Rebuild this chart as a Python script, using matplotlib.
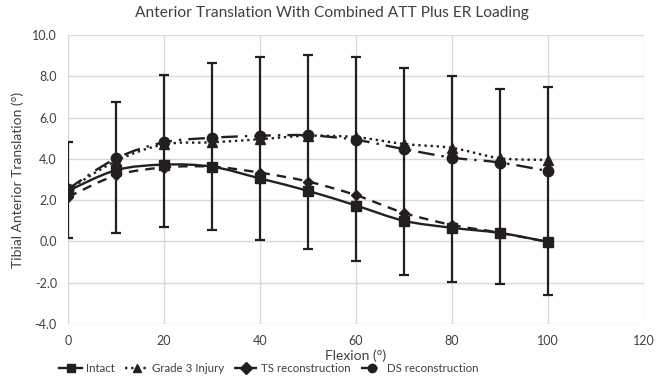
import numpy as np
import matplotlib.pyplot as plt
from matplotlib.path import Path
from matplotlib.patches import PathPatch
from matplotlib.lines import Line2D

flexion = [0, 10, 20, 30, 40, 50, 60, 70, 80, 90, 100]
intact = [2.45, 3.45, 3.72, 3.62, 3.05, 2.45, 1.74, 1.0, 0.66, 0.41, -0.02]
grade3 = [2.5, 3.9, 4.7, 4.8, 4.95, 5.12, 5.05, 4.72, 4.53, 4.03, 3.95]
ts_recon = [2.15, 3.2, 3.58, 3.62, 3.33, 2.9, 2.24, 1.38, 0.8, 0.42, -0.03]
ds_recon = [2.54, 4.02, 4.8, 5.02, 5.12, 5.14, 4.92, 4.47, 4.06, 3.82, 3.41]
err_top = [4.8, 6.75, 8.05, 8.62, 8.93, 9.03, 8.93, 8.4, 8.0, 7.38, 7.46]
err_bottom = [0.15, 0.4, 0.72, 0.56, 0.07, -0.36, -0.94, -1.62, -1.95, -2.07, -2.59]

ink = "#231f20"
plt.rcParams["font.family"] = ["Lato", "DejaVu Sans"]


def smooth_line(ax, x, y, **kw):
    # excel-style smoothed line: cubic bezier through the points
    pts = np.column_stack([x, y]).astype(float)
    n = len(pts)
    verts = [pts[0]]
    codes = [Path.MOVETO]
    for i in range(n - 1):
        p0 = pts[max(i - 1, 0)]
        p1 = pts[i]
        p2 = pts[i + 1]
        p3 = pts[min(i + 2, n - 1)]
        verts += [p1 + (p2 - p0) / 6, p2 - (p3 - p1) / 6, p2]
        codes += [Path.CURVE4] * 3
    ax.add_patch(PathPatch(Path(verts, codes), fill=False, edgecolor=ink, **kw))


fig = plt.figure(figsize=(6.64, 3.77), dpi=100)
ax = fig.add_axes([0.1024, 0.1406, 0.8675, 0.7666])

styles = [
    (intact, "s", 7, "-", "Intact"),
    (grade3, "^", 7, (0, (1, 1.6)), "Grade 3 Injury"),
    (ts_recon, "D", 5.5, (0, (4, 3)), "TS reconstruction"),
    (ds_recon, "o", 7.5, (0, (7, 3, 1, 3)), "DS reconstruction"),
]

intact_arr = np.array(intact)
ax.errorbar(flexion, intact, yerr=[intact_arr - np.array(err_bottom), np.array(err_top) - intact_arr],
            fmt="none", ecolor=ink, elinewidth=1.6, capsize=3.3, capthick=1.6, zorder=2)

handles = []
for vals, mk, ms, ls, name in styles:
    smooth_line(ax, flexion, vals, linewidth=1.7, linestyle=ls, zorder=3)
    ax.plot(flexion, vals, linestyle="none", marker=mk, ms=ms, color=ink, zorder=4)
    handles.append(Line2D([], [], color=ink, linestyle=ls, linewidth=1.7, marker=mk, ms=6))

ax.set_xlim(0, 120)
ax.set_ylim(-4, 10)
ax.set_xticks(range(0, 121, 20))
ax.set_yticks(np.arange(-4, 10.1, 2))
ax.set_yticklabels([f"{v:.1f}" for v in np.arange(-4, 10.1, 2)])
ax.grid(True, color="#d9d9d9", linewidth=1)
ax.set_axisbelow(True)
for s in ax.spines.values():
    s.set_visible(False)
ax.tick_params(length=0, labelsize=9, colors="#404040", pad=8)

ax.set_xlabel("Flexion (°)", fontsize=10, color="#404040", labelpad=2)
ax.set_ylabel("Tibial Anterior Translation (°)", fontsize=10, color="#404040", labelpad=6)
fig.suptitle("Anterior Translation With Combined ATT Plus ER Loading", fontsize=11.2,
             color="#404040", y=0.985, x=0.5)

fig.legend(handles, [s[4] for s in styles], loc="center", bbox_to_anchor=(0.405, 0.022),
           ncol=4, frameon=False, fontsize=8.3, handlelength=2.0, columnspacing=0.9,
           handletextpad=0.3, borderpad=0.1, labelcolor="#404040")

fig.savefig("out.png", dpi=100)
